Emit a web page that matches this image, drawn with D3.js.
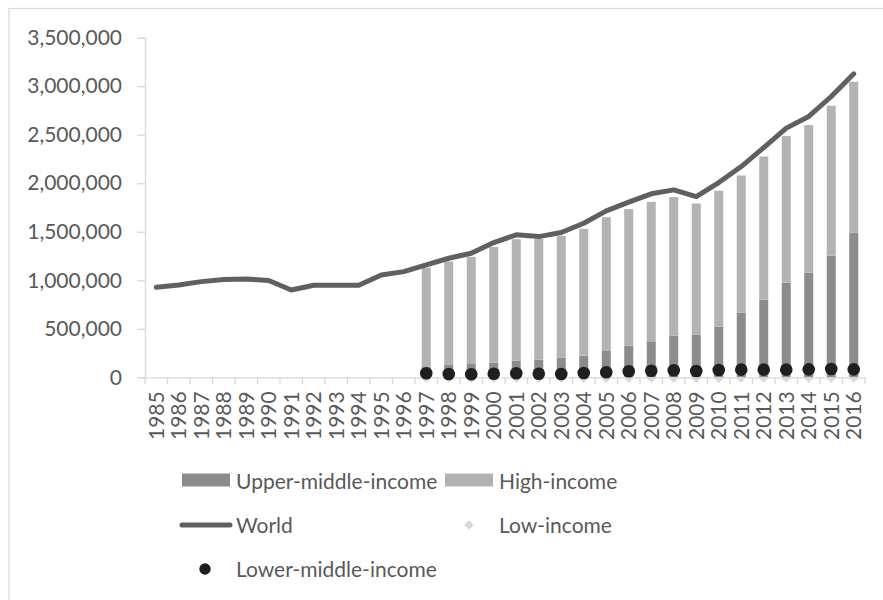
<!DOCTYPE html>
<html>
<head>
<meta charset="utf-8">
<script src="https://cdn.jsdelivr.net/npm/d3@7"></script>
<style>
  html, body { margin: 0; padding: 0; background: #ffffff; }
  svg { display: block; }
  text { font-family: Lato, "Open Sans", sans-serif; fill: #595959; }
</style>
</head>
<body>
<svg id="chart" width="883" height="600"></svg>
<script>
// ---- data ----
const years = ["1985","1986","1987","1988","1989","1990","1991","1992","1993","1994","1995","1996",
  "1997","1998","1999","2000","2001","2002","2003","2004","2005","2006","2007","2008","2009","2010",
  "2011","2012","2013","2014","2015","2016"];
const world = [928000, 952000, 986000, 1007000, 1014000, 997000, 900000, 949000, 949000, 949000, 1055000, 1089000,
  1158000, 1227000, 1279000, 1389000, 1468000, 1450000, 1492000, 1588000, 1715000, 1805000, 1891000, 1932000, 1863000, 2007000,
  2172000, 2368000, 2568000, 2688000, 2894000, 3128000];
const barYears = ["1997","1998","1999","2000","2001","2002","2003","2004","2005","2006","2007","2008","2009","2010",
  "2011","2012","2013","2014","2015","2016"];
const upperMiddle = [105000, 127000, 144000, 151000, 171000, 182000, 203000, 223000, 278000, 326000, 371000, 429000, 440000, 522000,
  667000, 800000, 976000, 1079000, 1254000, 1492000];
const highIncome = [1026000, 1066000, 1097000, 1193000, 1252000, 1245000, 1254000, 1307000, 1372000, 1407000, 1437000, 1428000, 1351000, 1400000,
  1413000, 1476000, 1510000, 1520000, 1545000, 1554000];
const lowerMiddle = [41000, 34000, 31000, 37000, 41000, 37000, 34000, 44000, 52000, 62000, 68000, 72000, 65000, 75000,
  79000, 79000, 79000, 82000, 86000, 82000];
const lowIncome = [2000, 2000, 2000, 2000, 2000, 2000, 2000, 2000, 2000, 2000, 2000, 2000, 2000, 2000,
  3000, 3000, 3000, 3000, 3000, 3000];
const yTicks = [0, 500000, 1000000, 1500000, 2000000, 2500000, 3000000, 3500000];

// ---- layout ----
const svg = d3.select("#chart");
const plotLeft = 145, plotRight = 865, plotTop = 37.7, plotBottom = 377.3;
const colUMI = "#8c8c8c", colHI = "#b3b3b3", colWorld = "#606060", colLMI = "#1f1f1f", colLI = "#d9d9d9", axisCol = "#d9d9d9";
const fs = "21px";

// chart border
svg.append("rect").attr("x", 9).attr("y", 8.5).attr("width", 900).attr("height", 620)
  .attr("fill", "none").attr("stroke", axisCol).attr("stroke-width", 1.2);

const x = d3.scaleBand().domain(years).range([plotLeft, plotRight]).padding(0);
const y = d3.scaleLinear().domain([0, 3500000]).range([plotBottom, plotTop]);
const fmt = d3.format(",");

// y axis
const yAxis = svg.append("g").attr("transform", `translate(${plotLeft},0)`)
  .call(d3.axisLeft(y).tickValues(yTicks).tickFormat(fmt).tickSize(8).tickPadding(15));
yAxis.select(".domain").attr("stroke", axisCol).attr("stroke-width", 1.3);
yAxis.selectAll(".tick line").attr("stroke", axisCol).attr("stroke-width", 1.3);
yAxis.selectAll(".tick text").style("font-size", fs).attr("fill", "#595959")
  .style("font-family", "Lato, sans-serif");

// low income diamonds (under axis)
const cx = d => x(d) + x.bandwidth() / 2;
svg.append("g").selectAll("path").data(barYears.map((d, i) => ({ yr: d, v: lowIncome[i] })))
  .join("path")
  .attr("d", d3.symbol().type(d3.symbolDiamond2).size(60))
  .attr("transform", d => `translate(${cx(d.yr)},${y(d.v) + 1}) `)
  .attr("fill", colLI);

// stacked bars
const barW = x.bandwidth() * 0.4;
const bars = svg.append("g");
barYears.forEach((yr, i) => {
  const u = upperMiddle[i], h = highIncome[i];
  bars.append("rect").attr("x", cx(yr) - barW / 2).attr("width", barW)
    .attr("y", y(u)).attr("height", y(0) - y(u)).attr("fill", colUMI);
  bars.append("rect").attr("x", cx(yr) - barW / 2).attr("width", barW)
    .attr("y", y(u + h)).attr("height", y(u) - y(u + h)).attr("fill", colHI);
});

// x axis
const xAxis = svg.append("g").attr("transform", `translate(0,${plotBottom})`)
  .call(d3.axisBottom(x).tickSize(0).tickPadding(0));
xAxis.select(".domain").attr("stroke", axisCol).attr("stroke-width", 1.3);
xAxis.selectAll(".tick text")
  .style("font-size", fs).style("font-family", "Lato, sans-serif").attr("fill", "#595959")
  .attr("text-anchor", "end").attr("dy", "0")
  .attr("transform", "translate(7.5,14) rotate(-90)");
// boundary ticks
const bounds = years.map(d => x(d)).concat([plotRight]);
svg.append("g").selectAll("line").data(bounds).join("line")
  .attr("x1", d => d).attr("x2", d => d).attr("y1", plotBottom).attr("y2", plotBottom + 7)
  .attr("stroke", axisCol).attr("stroke-width", 1.3);

// world line
svg.append("path").datum(years.map((d, i) => ({ yr: d, v: world[i] })))
  .attr("fill", "none").attr("stroke", colWorld).attr("stroke-width", 5)
  .attr("stroke-linejoin", "round").attr("stroke-linecap", "round")
  .attr("d", d3.line().x(d => cx(d.yr)).y(d => y(d.v)));

// lower-middle dots
svg.append("g").selectAll("circle").data(barYears.map((d, i) => ({ yr: d, v: lowerMiddle[i] })))
  .join("circle").attr("cx", d => cx(d.yr)).attr("cy", d => y(d.v)).attr("r", 6.3).attr("fill", colLMI);

// legend
const lg = svg.append("g").style("font-size", fs);
function ltext(xx, yy, t) {
  lg.append("text").attr("x", xx).attr("y", yy).attr("dominant-baseline", "central").text(t);
}
lg.append("rect").attr("x", 182).attr("y", 473.5).attr("width", 48).attr("height", 13).attr("fill", colUMI);
ltext(236, 480, "Upper-middle-income");
lg.append("rect").attr("x", 445).attr("y", 473.5).attr("width", 48).attr("height", 13).attr("fill", colHI);
ltext(499, 480, "High-income");
lg.append("line").attr("x1", 182).attr("x2", 230).attr("y1", 525).attr("y2", 525)
  .attr("stroke", colWorld).attr("stroke-width", 5).attr("stroke-linecap", "round");
ltext(236, 524, "World");
lg.append("path").attr("d", d3.symbol().type(d3.symbolDiamond2).size(60))
  .attr("transform", "translate(469,525)").attr("fill", colLI);
ltext(499, 524, "Low-income");
lg.append("circle").attr("cx", 205).attr("cy", 569).attr("r", 5.7).attr("fill", colLMI);
ltext(236, 568, "Lower-middle-income");
</script>
</body>
</html>
